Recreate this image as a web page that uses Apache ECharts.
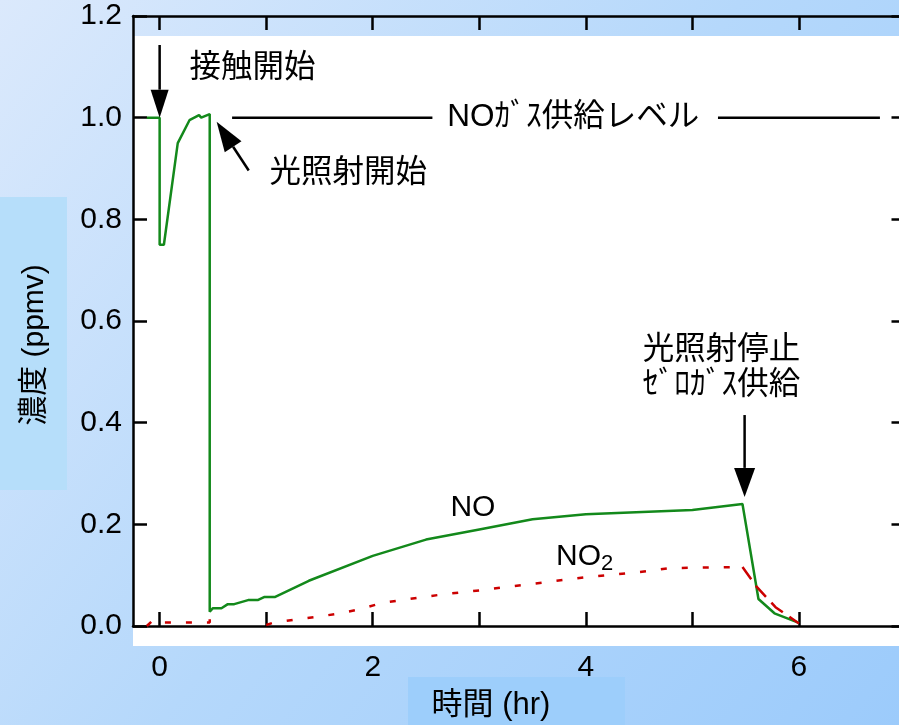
<!DOCTYPE html>
<html>
<head>
<meta charset="utf-8">
<script src="https://cdn.jsdelivr.net/npm/echarts@6/dist/echarts.min.js"></script>
<style>
  html, body { margin: 0; padding: 0; }
  #main { width: 899px; height: 725px; }
</style>
</head>
<body>
<div id="main"></div>
<script>
// NO concentration (ppmv) vs time (hr)
const noTime = [-0.12, 0.0, 0.0, 0.04, 0.17, 0.28, 0.37, 0.39, 0.47, 0.47, 0.50, 0.58, 0.64, 0.70, 0.83, 0.92, 0.98, 1.08, 1.4, 2.0, 2.5, 3.0, 3.5, 4.0, 5.0, 5.47, 5.62, 5.77, 6.0];
const noConc = [1.0, 1.0, 0.75, 0.75, 0.95, 0.995, 1.005, 1.0, 1.007, 0.028, 0.035, 0.035, 0.043, 0.043, 0.051, 0.051, 0.057, 0.057, 0.089, 0.138, 0.17, 0.19, 0.21, 0.22, 0.228, 0.240, 0.053, 0.025, 0.006];

// NO2 while light is on (dotted)
const no2Time = [-0.12, -0.06, 0.0, 0.47, 0.47, 0.75, 1.0, 1.06, 1.25, 1.47, 1.67, 1.88, 2.08, 2.27, 2.47, 2.69, 3.0, 3.5, 4.0, 4.5, 4.8, 5.47];
const no2Conc = [0.0, 0.012, 0.007, 0.007, 0.016, null, 0.002, 0.006, 0.012, 0.018, 0.024, 0.033, 0.045, 0.051, 0.057, 0.063, 0.07, 0.083, 0.096, 0.106, 0.114, 0.116];

// NO2 after zero gas (dashed)
const no2OffTime = [5.47, 5.6, 5.78, 6.0];
const no2OffConc = [0.116, 0.078, 0.037, 0.005];

const xTicks = [0, 1, 2, 3, 4, 5, 6, 7];
const xLabels = [0, 2, 4, 6];

const toPairs = (xs, ys) => xs.map((x, i) => [x, ys[i] === null ? '-' : ys[i]]);

const LATIN = "'Liberation Sans', Arial, sans-serif";
const JP = "'Liberation Sans', 'Noto Sans CJK JP', sans-serif";
const GREEN = '#13891b';
const RED = '#cc0000';

const chart = echarts.init(document.getElementById('main'));

const axisLine = { show: true, onZero: false, lineStyle: { color: '#000', width: 2.5 } };
const tickIn = { show: true, inside: true, length: 14, lineStyle: { color: '#000', width: 2.5 } };

chart.setOption({
  backgroundColor: {
    type: 'linear', x: 0, y: 0, x2: 1, y2: 1,
    colorStops: [
      { offset: 0, color: '#dbe9fc' },
      { offset: 0.5, color: '#b5d8fb' },
      { offset: 1, color: '#9ccbfb' }
    ]
  },
  animation: false,
  grid: { left: 133, top: 16, width: 772.5, height: 610, outerBoundsMode: 'none', containLabel: false },
  xAxis: [
    {
      type: 'value', min: -0.25, max: 7, position: 'bottom',
      axisLine: axisLine,
      axisTick: Object.assign({ customValues: xTicks }, tickIn),
      axisLabel: { customValues: xLabels, fontSize: 30, fontFamily: LATIN, color: '#000', margin: 27 },
      splitLine: { show: false }
    },
    {
      type: 'value', min: -0.25, max: 7, position: 'top',
      axisLine: axisLine,
      axisTick: Object.assign({ customValues: xTicks }, tickIn),
      axisLabel: { show: false },
      splitLine: { show: false }
    }
  ],
  yAxis: [
    {
      type: 'value', min: 0, max: 1.2, interval: 0.2, position: 'left',
      axisLine: axisLine,
      axisTick: tickIn,
      axisLabel: { fontSize: 30, fontFamily: LATIN, color: '#000', margin: 11, formatter: v => v.toFixed(1) },
      splitLine: { show: false }
    },
    {
      type: 'value', min: 0, max: 1.2, interval: 0.2, position: 'right',
      axisLine: axisLine,
      axisTick: tickIn,
      axisLabel: { show: false },
      splitLine: { show: false }
    }
  ],
  series: [
    {
      name: 'NO', type: 'line', data: toPairs(noTime, noConc),
      symbol: 'none', lineStyle: { color: GREEN, width: 2.5 }, z: 3
    },
    {
      name: 'NO2', type: 'line', data: toPairs(no2Time, no2Conc),
      symbol: 'none', connectNulls: false,
      lineStyle: { color: RED, width: 2.5, type: [6, 15] }
    },
    {
      name: 'NO2 off', type: 'line', data: toPairs(no2OffTime, no2OffConc),
      symbol: 'none', lineStyle: { color: RED, width: 2.5, type: [15, 8] }
    }
  ]
});

// annotations placed from data coordinates
const px = (x, y) => chart.convertToPixel({ xAxisIndex: 0, yAxisIndex: 0 }, [x, y]);

function arrow(from, to, headLen, headW) {
  const a = px(from[0], from[1]);
  const b = px(to[0], to[1]);
  const dx = b[0] - a[0], dy = b[1] - a[1];
  const len = Math.sqrt(dx * dx + dy * dy);
  const ux = dx / len, uy = dy / len;
  const bx = b[0] - ux * headLen, by = b[1] - uy * headLen;
  return [
    { type: 'line', shape: { x1: a[0], y1: a[1], x2: bx, y2: by }, style: { stroke: '#000', lineWidth: 2.5 }, z: 10 },
    {
      type: 'polygon', z: 10,
      shape: { points: [[b[0], b[1]], [bx - uy * headW / 2, by + ux * headW / 2], [bx + uy * headW / 2, by - ux * headW / 2]] },
      style: { fill: '#000' }
    }
  ];
}

function label(x, y, text, extra) {
  const p = px(x, y);
  return {
    type: 'text', x: p[0], y: p[1], z: 10,
    style: Object.assign({ text: text, font: '31.5px ' + JP, fill: '#000', textAlign: 'left', textVerticalAlign: 'middle' }, extra || {})
  };
}

function hline(x1, x2, y) {
  const a = px(x1, y), b = px(x2, y);
  return { type: 'line', z: 10, shape: { x1: a[0], y1: a[1], x2: b[0], y2: b[1] }, style: { stroke: '#000', lineWidth: 2.5 } };
}

const g = [
  // white plot panel
  { type: 'rect', z: -10, shape: { x: 133, y: 36, width: 766, height: 610 }, style: { fill: '#fff' } },
  // tinted boxes behind axis titles
  { type: 'rect', z: -10, shape: { x: 0, y: 197, width: 67, height: 293 }, style: { fill: '#b6defa' } },
  { type: 'rect', z: -10, shape: { x: 408, y: 677, width: 217, height: 48 }, style: { fill: '#9dcefb' } },
  // axis titles
  {
    type: 'text', x: 35, y: 345, rotation: Math.PI / 2, z: 10,
    style: { text: '濃度 (ppmv)', font: '30px ' + JP, fill: '#000', textAlign: 'center', textVerticalAlign: 'middle' }
  },
  {
    type: 'text', x: 491, y: 705, z: 10,
    style: { text: '時間 (hr)', font: '31px ' + JP, fill: '#000', textAlign: 'center', textVerticalAlign: 'middle' }
  },
  // supply level line
  hline(0.68, 2.56, 1.0),
  hline(5.24, 6.76, 1.0),
  label(2.70, 1.0, 'NOｶﾞｽ供給レベル'),
  label(0.28, 1.098, '接触開始'),
  label(1.03, 0.891, '光照射開始'),
  label(4.535, 0.543, '光照射停止'),
  label(4.535, 0.474, 'ｾﾞﾛｶﾞｽ供給'),
  label(2.94, 0.232, 'NO', { textAlign: 'center', font: '30px ' + LATIN }),
  label(3.72, 0.136, '{a|NO}{b|2}', {
    font: '30px ' + LATIN,
    rich: {
      a: { fontSize: 30, fontFamily: LATIN, fill: '#000' },
      b: { fontSize: 22, fontFamily: LATIN, fill: '#000', padding: [14, 0, 0, 0] }
    }
  })
].concat(
  arrow([0.0, 1.143], [0.0, 1.0], 28, 18),
  arrow([0.836, 0.896], [0.535, 0.992], 30, 20),
  arrow([5.49, 0.415], [5.49, 0.254], 29, 21)
);

chart.setOption({ graphic: g });
</script>
</body>
</html>
